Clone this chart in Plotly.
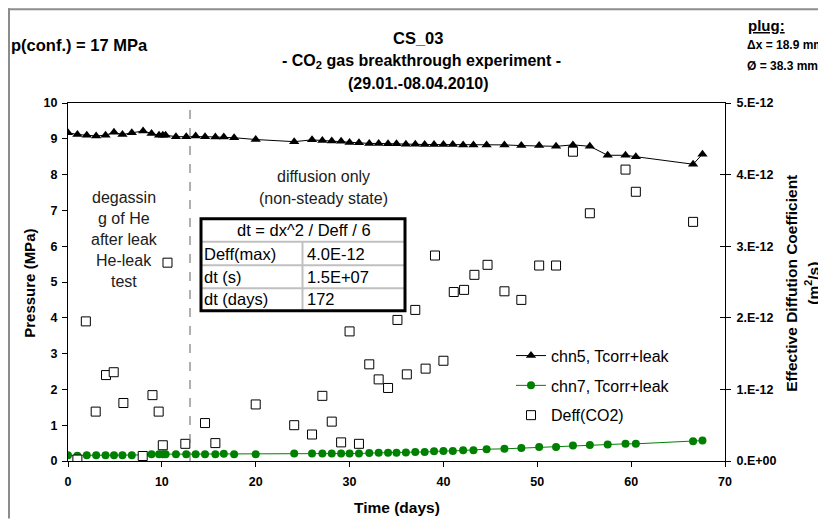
import plotly.graph_objects as go

# ---------------- data ----------------
days = [0, 1, 2, 3, 4, 4.9, 5.8, 6.8, 8.0, 8.9,
        9.7, 10.1, 10.4, 11.5, 12.6, 13.6, 14.6, 15.7, 16.6, 17.7,
        20.0, 24.1, 26.0, 27.1, 28.1, 29.1, 30.0, 31.0, 32.1, 33.1,
        34.1, 35.0, 36.0, 37.0, 38.0, 39.0, 40.0, 41.0, 42.1, 43.2,
        44.6, 46.5, 48.3, 50.2, 52.0, 53.8, 55.6, 57.5, 59.4, 60.5,
        66.6, 67.6]

chn5 = [9.17, 9.12, 9.10, 9.08, 9.10, 9.18, 9.12, 9.17, 9.22, 9.15,
        9.10, 9.10, 9.10, 9.06, 9.06, 9.08, 9.06, 9.05, 9.05, 9.03,
        8.98, 8.92, 8.97, 8.95, 8.94, 8.93, 8.90, 8.89, 8.87, 8.87,
        8.86, 8.86, 8.85, 8.85, 8.84, 8.84, 8.84, 8.84, 8.83, 8.83,
        8.83, 8.83, 8.81, 8.81, 8.79, 8.83, 8.79, 8.54, 8.54, 8.50,
        8.29, 8.57]

chn7 = [0.16, 0.15, 0.16, 0.16, 0.16, 0.16, 0.16, 0.16, 0.17, 0.19,
        0.19, 0.19, 0.19, 0.19, 0.19, 0.19, 0.19, 0.19, 0.20, 0.19,
        0.19, 0.21, 0.21, 0.21, 0.21, 0.21, 0.21, 0.21, 0.22, 0.23,
        0.23, 0.23, 0.24, 0.25, 0.25, 0.27, 0.28, 0.28, 0.30, 0.30,
        0.33, 0.34, 0.36, 0.39, 0.39, 0.43, 0.45, 0.46, 0.48, 0.48,
        0.55, 0.57]

deff_days = [1.0, 1.9, 2.95, 4.05, 4.87, 5.9, 7.96, 9.0, 9.66, 10.1,
             10.6, 12.5, 14.6, 15.7, 20.0, 24.1, 26.0, 27.1, 28.1, 29.1,
             30.0, 31.0, 32.1, 33.1, 34.1, 35.1, 36.1, 37.0, 38.1, 39.1,
             40.0, 41.1, 42.2, 43.3, 44.7, 46.5, 48.3, 50.2, 52.0, 53.8,
             55.6, 59.4, 60.5, 66.6]
deff = [v * 1e-12 for v in
        [0.02, 1.95, 0.69, 1.20, 1.24, 0.81, 0.07, 0.92, 0.69, 0.22,
         2.77, 0.24, 0.53, 0.25, 0.79, 0.50, 0.37, 0.91, 0.55, 0.26,
         1.81, 0.24, 1.35, 1.14, 1.02, 1.97, 1.21, 2.11, 1.29, 2.87,
         1.40, 2.36, 2.39, 2.60, 2.74, 2.37, 2.25, 2.73, 2.73, 4.32,
         3.46, 4.07, 3.76, 3.34]]

x_ticks = [0, 10, 20, 30, 40, 50, 60, 70]
y_ticks = list(range(0, 11))
y2_ticks = [0, 1e-12, 2e-12, 3e-12, 4e-12, 5e-12]
y2_ticktext = ["0.E+00", "1.E-12", "2.E-12", "3.E-12", "4.E-12", "5.E-12"]

transition_day = 13

table_title = "dt = dx^2 / Deff / 6"
table_labels = ["Deff(max)", "dt (s)", "dt (days)"]
table_values = ["4.0E-12", "1.5E+07", "172"]

# ---------------- layout geometry (screen pixels) ----------------
OFF = 8                      # page body margin
W, H = 826 - OFF, 519 - OFF  # figure size that fits the window
L, R, T, B = 68, 725, 103, 461.5   # plot area in screen pixels
PW, PH = R - L, B - T

def px(x):
    return (x - L) / PW

def py(y):
    return (B - y) / PH

FONT = "Arial, Liberation Sans, sans-serif"

fig = go.Figure()

fig.add_trace(go.Scatter(
    x=days, y=chn5, name="chn5, Tcorr+leak", mode="lines+markers",
    line=dict(color="black", width=1),
    marker=dict(symbol="triangle-up", size=9, color="black"),
    legendgroup="a"))
fig.add_trace(go.Scatter(
    x=days, y=chn7, name="chn7, Tcorr+leak", mode="lines+markers",
    line=dict(color="#008000", width=1),
    marker=dict(symbol="circle", size=8, color="#008000"),
    legendgroup="b"))
fig.add_trace(go.Scatter(
    x=deff_days, y=deff, name="Deff(CO2)", mode="markers", yaxis="y2",
    marker=dict(symbol="square", size=9, color="white",
                line=dict(color="black", width=1)),
    legendgroup="c"))
# helper trace to draw inner tick marks on right axis
fig.add_trace(go.Scatter(x=[], y=[], yaxis="y3", showlegend=False,
                         hoverinfo="skip"))

shapes = []
# dashed separator
shapes.append(dict(type="line", xref="x", yref="paper", x0=transition_day,
                   x1=transition_day, y0=0, y1=1,
                   line=dict(color="#606060", width=1, dash="dash")))

# table
tx0, tx1, tmid = 201, 405, 302.5
rows_y = [219, 242, 265.5, 288.5, 311]
for yy in rows_y[1:-1]:
    shapes.append(dict(type="line", xref="paper", yref="paper",
                       x0=px(tx0), x1=px(tx1), y0=py(yy), y1=py(yy),
                       line=dict(color="#c0c0c0", width=2)))
shapes.append(dict(type="line", xref="paper", yref="paper",
                   x0=px(tmid), x1=px(tmid), y0=py(rows_y[1]), y1=py(rows_y[-1]),
                   line=dict(color="#c0c0c0", width=2)))
shapes.append(dict(type="rect", xref="paper", yref="paper",
                   x0=px(tx0), x1=px(tx1), y0=py(rows_y[0]), y1=py(rows_y[-1]),
                   line=dict(color="black", width=3), fillcolor="rgba(0,0,0,0)"))

# outer chart-area border (left and top edges visible)
shapes.append(dict(type="line", xref="paper", yref="paper",
                   x0=px(OFF + 1), x1=px(OFF + 1), y0=py(OFF), y1=py(519),
                   line=dict(color="#8c8c8c", width=2)))
shapes.append(dict(type="line", xref="paper", yref="paper",
                   x0=px(OFF), x1=px(826), y0=py(OFF + 1), y1=py(OFF + 1),
                   line=dict(color="#8c8c8c", width=2)))

annotations = []

def ann(text, x, y, size=13, bold=False, xanchor="center", color="black",
        angle=0):
    if bold:
        text = "<b>" + text + "</b>"
    annotations.append(dict(text=text, x=px(x), y=py(y), xref="paper",
                            yref="paper", showarrow=False, xanchor=xanchor,
                            yanchor="middle", textangle=angle,
                            font=dict(family=FONT, size=size, color=color)))

# header texts
ann("p(conf.) = 17 MPa", 9, 45, 16.5, True, "left")
ann("CS_03", 418, 38, 16.5, True)
ann("- CO<sub>2</sub> gas breakthrough experiment -", 421, 61, 16, True)
ann("(29.01.-08.04.2010)", 418, 83, 16, True)
ann("<u>plug:</u>", 746, 25, 15, True, "left")
ann("\u0394x = 18.9 mm", 745, 45, 12, True, "left")
ann("\u00d8 = 38.3 mm", 745, 66, 12, True, "left")

# in-plot notes
for i, line in enumerate(["degassin", "g of He", "after leak", "He-leak", "test"]):
    ann(line, 124, 198 + i * 21, 16, False, "center", "#202020")
ann("diffusion only", 323, 177, 16, False, "center", "#202020")
ann("(non-steady state)", 323, 199, 16, False, "center", "#202020")

# table texts
ann(table_title, (tx0 + tx1) / 2 + 1, 230.5, 16.5)
for i, (lab, val) in enumerate(zip(table_labels, table_values)):
    yc = (rows_y[i + 1] + rows_y[i + 2]) / 2
    ann(lab, tx0 + 1, yc, 16.5, False, "left")
    ann(val, tmid + 2, yc, 16.5, False, "left")

# axis titles
ann("Pressure (MPa)", 30, 284, 15, True, angle=-90)
ann("Time (days)", 397, 508, 15.5, True)
ann("Effective Diffution Coefficient", 792, 284, 15.5, True, angle=-90)
ann("(m<sup>2</sup>/s)", 812, 284, 15.5, True, angle=-90)

tickfont = dict(family=FONT, size=12.5, color="black", weight="bold")

fig.update_layout(
    width=W, height=H,
    margin=dict(l=L - OFF, r=W - (R - OFF), t=T - OFF, b=H - (B - OFF),
                pad=0, autoexpand=False),
    paper_bgcolor="white", plot_bgcolor="white",
    font=dict(family=FONT, color="black"),
    showlegend=True,
    legend=dict(x=px(511), y=py(339), xanchor="left", yanchor="top",
                bgcolor="rgba(0,0,0,0)", font=dict(family=FONT, size=16),
                tracegroupgap=6, itemwidth=30),
    xaxis=dict(range=[0, 70], tickvals=x_ticks, showgrid=False, zeroline=False,
               showline=True, linecolor="black", linewidth=1, mirror=True,
               ticks="outside", ticklen=5, tickcolor="black",
               tickfont=tickfont, ticklabelstandoff=4, automargin=False),
    yaxis=dict(range=[0, 10], tickvals=y_ticks, showgrid=False, zeroline=False,
               showline=True, linecolor="black", linewidth=1,
               ticks="outside", ticklen=5, tickcolor="black",
               tickfont=tickfont, ticklabelstandoff=2, automargin=False),
    yaxis2=dict(range=[0, 5e-12], tickvals=y2_ticks, ticktext=y2_ticktext,
                overlaying="y", side="right", showgrid=False, zeroline=False,
                showline=True, linecolor="black", linewidth=1,
                ticks="outside", ticklen=5, tickcolor="black",
                tickfont=tickfont, ticklabelstandoff=3, automargin=False),
    yaxis3=dict(range=[0, 5e-12], tickvals=y2_ticks, overlaying="y",
                side="right", showgrid=False, zeroline=False, showline=False,
                ticks="inside", ticklen=5, tickcolor="black",
                showticklabels=False, automargin=False),
    shapes=shapes,
    annotations=annotations,
)

fig.write_html("out.html")
